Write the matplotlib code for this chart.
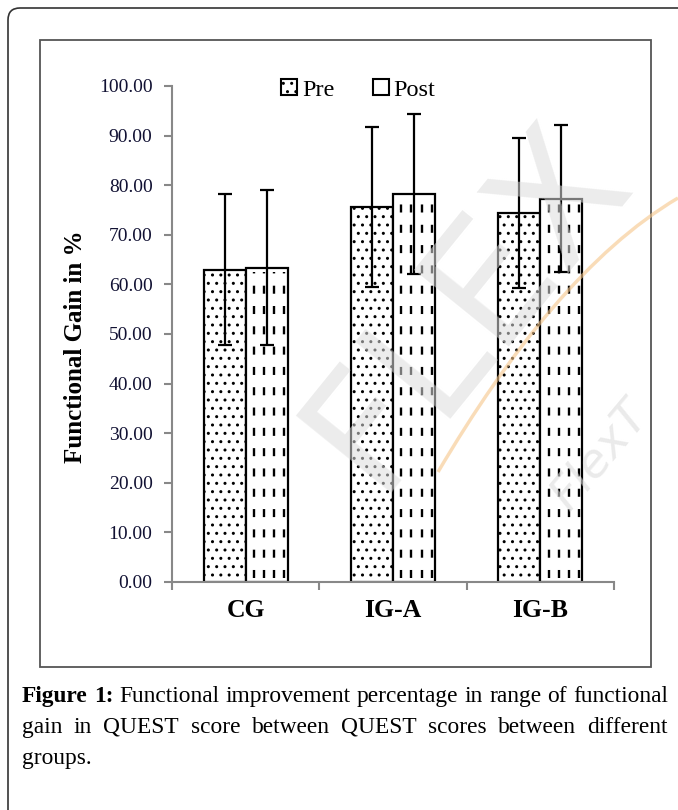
import matplotlib
matplotlib.use('Agg')
import matplotlib.pyplot as plt
import numpy as np
from matplotlib.patches import Patch, Rectangle, FancyBboxPatch, PathPatch
from matplotlib.path import Path
from matplotlib.transforms import IdentityTransform

# data
groups = ['CG', 'IG-A', 'IG-B']
pre_mean = [63.0, 75.6, 74.4]
pre_sd = [15.2, 16.1, 15.2]
post_mean = [63.4, 78.2, 77.3]
post_sd = [15.6, 16.2, 14.9]
yticks = np.arange(0, 101, 10)
legend_labels = ['Pre', 'Post']
caption = ["Figure 1: Functional improvement percentage in range of functional",
           "gain in QUEST score between QUEST scores between different",
           "groups."]

plt.rcParams['font.family'] = ['Liberation Serif', 'DejaVu Serif']

W, H = 678, 810
fig = plt.figure(figsize=(W / 100, H / 100), dpi=100)


def box(x0, y0, x1, y1):
    # pixel box (top-left origin) -> figure fraction
    return [x0 / W, 1 - y1 / H, (x1 - x0) / W, (y1 - y0) / H]


# outer rounded frame + inner chart frame
fig.patches.append(FancyBboxPatch((8, -40), 720, H - 8 + 40, boxstyle='round,pad=0,rounding_size=12',
                                  transform=IdentityTransform(), fill=False, edgecolor='#333333', lw=1.2))
fig.patches.append(Rectangle((40, H - 667), 611, 627, transform=IdentityTransform(),
                             fill=False, edgecolor='#555555', lw=1.3))

ax = fig.add_axes(box(172, 86, 614, 582))
x = np.arange(len(groups)) + 0.5
w = 0.285

ax.bar(x - w / 2, pre_mean, w, facecolor='white', edgecolor='black', linewidth=1.6, hatch='..', zorder=2)
ax.bar(x + w / 2, post_mean, w, facecolor='white', edgecolor='black', linewidth=1.6, zorder=2)

# dashed vertical fill in the post bars
for xc, h in zip(x + w / 2, post_mean):
    for f in [-0.3, -0.06, 0.18, 0.42]:
        ax.plot([xc + f * w, xc + f * w], [0.8, h - 0.8], color='black', lw=1.7,
                linestyle=(0, (3.4, 5.2)), dash_capstyle='butt', zorder=2.5)

ax.errorbar(x - w / 2, pre_mean, yerr=pre_sd, fmt='none', ecolor='black', elinewidth=1.6,
            capsize=5, capthick=1.6, zorder=3)
ax.errorbar(x + w / 2, post_mean, yerr=post_sd, fmt='none', ecolor='black', elinewidth=1.6,
            capsize=5, capthick=1.6, zorder=3)

ax.set_xlim(0, 3)
ax.set_ylim(0, 100)
for s in ['top', 'right']:
    ax.spines[s].set_visible(False)
for s in ['left', 'bottom']:
    ax.spines[s].set_color('#888888')
    ax.spines[s].set_linewidth(1.5)

ax.set_yticks(yticks)
ax.set_yticklabels(['%.2f' % v for v in yticks])
ax.tick_params(axis='y', direction='out', length=6, width=1.5, color='#888888',
               labelsize=14, pad=8, labelcolor='#111133')
ax.set_xticks([0, 1, 2, 3])
ax.set_xticklabels([])
ax.tick_params(axis='x', which='major', direction='out', length=6, width=1.5, color='#888888')
ax.set_xticks(x, minor=True)
ax.set_xticklabels(groups, minor=True, fontsize=18.5, fontweight='bold')
ax.tick_params(axis='x', which='minor', length=0, pad=12)

fig.text(76 / W, 1 - 347 / H, 'Functional Gain in %', rotation=90, fontsize=18,
         fontweight='bold', ha='center', va='center')

handles = [Patch(facecolor='white', edgecolor='black', hatch='..', lw=1.5),
           Patch(facecolor='white', edgecolor='black', lw=1.5)]
ax.legend(handles, legend_labels, ncol=2, frameon=False, loc='center left',
          bbox_to_anchor=(0.225, 0.992), handlelength=0.65, handleheight=0.65,
          handletextpad=0.2, columnspacing=1.6, fontsize=17.5, borderaxespad=0)

# watermark
fig.text(468 / W, 1 - 305 / H, 'FLEX', rotation=51, fontsize=120, color='#dddddd',
         alpha=0.55, ha='center', va='center', family='DejaVu Sans', zorder=10)
fig.text(600 / W, 1 - 455 / H, 'FlexT', rotation=50, fontsize=34, color='#dddddd',
         alpha=0.6, ha='center', va='center', family='DejaVu Sans', style='italic', zorder=10)
swoosh = Path([(438, H - 472), (510, H - 350), (590, H - 250), (678, H - 198)],
              [Path.MOVETO, Path.CURVE4, Path.CURVE4, Path.CURVE4])
fig.patches.append(PathPatch(swoosh, transform=IdentityTransform(), fill=False,
                             edgecolor='#f6c68a', lw=2.5, alpha=0.6))

# justified caption
r = fig.canvas.get_renderer()
baselines = [702, 733, 764]
left, right = 22, 668
for i, line in enumerate(caption):
    words = line.split()
    ts = []
    for j, wd in enumerate(words):
        bold = (i == 0 and j < 2)
        ts.append(fig.text(0, H - baselines[i], wd, fontsize=16.8, va='baseline',
                           fontweight='bold' if bold else 'normal',
                           transform=IdentityTransform()))
    widths = [t.get_window_extent(r).width for t in ts]
    if i < len(caption) - 1:
        gap = (right - left - sum(widths)) / (len(words) - 1)
    else:
        gap = 5
    xp = left
    for t, wdt in zip(ts, widths):
        t.set_x(xp)
        xp += wdt + gap

fig.savefig('out.png', dpi=100)
